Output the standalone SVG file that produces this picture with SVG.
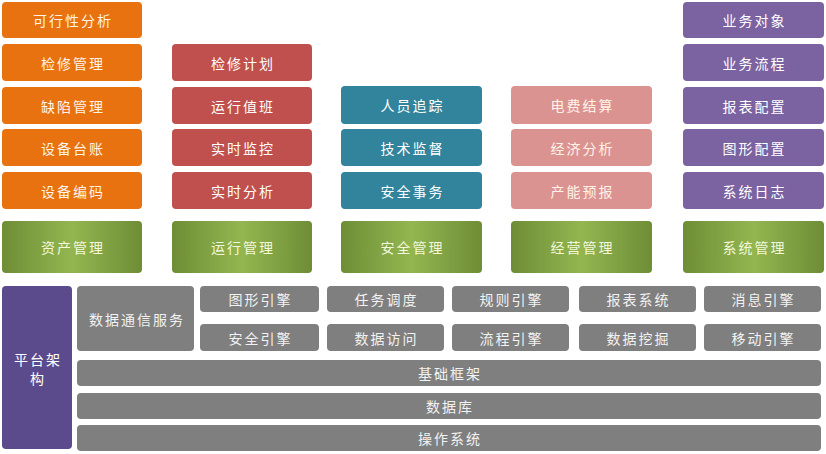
<svg xmlns="http://www.w3.org/2000/svg" width="826" height="454" viewBox="0 0 826 454">
<defs>
<linearGradient id="gr" x1="0" y1="0" x2="1" y2="0">
<stop offset="0" stop-color="#6E8D36"/>
<stop offset="0.5" stop-color="#93B650"/>
<stop offset="1" stop-color="#6E8D36"/>
</linearGradient>
<style>
rect{rx:4px;ry:4px}
.o{fill:#E8720F}
.r{fill:#C0504D}
.t{fill:#31849B}
.p{fill:#DB9391}
.v{fill:#7B62A0}
.g{fill:url(#gr)}
.k{fill:#7F7F7F}
.f{fill:#5C4B8C}
text{font-family:"Noto Sans CJK SC","Noto Sans CJK JP",sans-serif;font-size:14px;letter-spacing:2px;fill:#FFFFFF;text-anchor:middle;dominant-baseline:central}
.lt{fill:#FFF3E8}
.gt{fill:#F4F8DA}
.kt{fill:#F2F2F2}
</style>
</defs>
<rect x="0" y="0" width="826" height="454" style="fill:#FFFFFF;rx:0;ry:0"/>
<g id="col-asset">
<g id="n-kxxfx"><rect class="o" x="2" y="2" width="140" height="36"/><text class="lt" x="73" y="20">可行性分析</text></g>
<g id="n-jxgl"><rect class="o" x="2" y="44" width="140" height="37"/><text class="lt" x="73" y="62.5">检修管理</text></g>
<g id="n-qxgl"><rect class="o" x="2" y="87" width="140" height="37"/><text class="lt" x="73" y="105.5">缺陷管理</text></g>
<g id="n-sbtz"><rect class="o" x="2" y="129" width="140" height="37"/><text class="lt" x="73" y="147.5">设备台账</text></g>
<g id="n-sbbm"><rect class="o" x="2" y="172" width="140" height="37"/><text class="lt" x="73" y="190.5">设备编码</text></g>
<g id="n-zcgl"><rect class="g" x="2" y="221" width="140" height="52"/><text class="gt" x="73" y="247">资产管理</text></g>
</g>
<g id="col-run">
<g id="n-jxjh"><rect class="r" x="172" y="44" width="140" height="37"/><text x="243" y="62.5">检修计划</text></g>
<g id="n-yxzb"><rect class="r" x="172" y="87" width="140" height="37"/><text x="243" y="105.5">运行值班</text></g>
<g id="n-ssjk"><rect class="r" x="172" y="129" width="140" height="37"/><text x="243" y="147.5">实时监控</text></g>
<g id="n-ssfx"><rect class="r" x="172" y="172" width="140" height="37"/><text x="243" y="190.5">实时分析</text></g>
<g id="n-yxgl"><rect class="g" x="172" y="221" width="140" height="52"/><text class="gt" x="243" y="247">运行管理</text></g>
</g>
<g id="col-safe">
<g id="n-ryzz"><rect class="t" x="341" y="86" width="141" height="38"/><text x="412.5" y="105">人员追踪</text></g>
<g id="n-jsjd"><rect class="t" x="341" y="129" width="141" height="37"/><text x="412.5" y="147.5">技术监督</text></g>
<g id="n-aqsw"><rect class="t" x="341" y="172" width="141" height="37"/><text x="412.5" y="190.5">安全事务</text></g>
<g id="n-aqgl"><rect class="g" x="341" y="221" width="141" height="52"/><text class="gt" x="412.5" y="247">安全管理</text></g>
</g>
<g id="col-biz">
<g id="n-dfjs"><rect class="p" x="511" y="86" width="141" height="38"/><text class="lt" x="582.5" y="105">电费结算</text></g>
<g id="n-jjfx"><rect class="p" x="511" y="129" width="141" height="37"/><text class="lt" x="582.5" y="147.5">经济分析</text></g>
<g id="n-cnyb"><rect class="p" x="511" y="172" width="141" height="37"/><text class="lt" x="582.5" y="190.5">产能预报</text></g>
<g id="n-jygl"><rect class="g" x="511" y="221" width="141" height="52"/><text class="gt" x="582.5" y="247">经营管理</text></g>
</g>
<g id="col-sys">
<g id="n-ywdx"><rect class="v" x="683" y="2" width="141" height="36"/><text x="754.5" y="20">业务对象</text></g>
<g id="n-ywlc"><rect class="v" x="683" y="44" width="141" height="37"/><text x="754.5" y="62.5">业务流程</text></g>
<g id="n-bbpz"><rect class="v" x="683" y="87" width="141" height="37"/><text x="754.5" y="105.5">报表配置</text></g>
<g id="n-txpz"><rect class="v" x="683" y="129" width="141" height="37"/><text x="754.5" y="147.5">图形配置</text></g>
<g id="n-xtrz"><rect class="v" x="683" y="172" width="141" height="37"/><text x="754.5" y="190.5">系统日志</text></g>
<g id="n-xtgl"><rect class="g" x="683" y="221" width="141" height="52"/><text class="gt" x="754.5" y="247">系统管理</text></g>
</g>
<g id="platform">
<g id="n-ptjg"><rect class="f" x="2" y="286" width="70" height="163"/><text x="38" y="359">平台架</text><text x="38" y="378">构</text></g>
<g id="n-sjtxfw"><rect class="k" x="77" y="286" width="117" height="65"/><text class="kt" x="137" y="318.5">数据通信服务</text></g>
<g id="n-txyq"><rect class="k" x="200" y="286" width="119" height="26"/><text class="kt" x="260.5" y="299">图形引擎</text></g>
<g id="n-rwdd"><rect class="k" x="327" y="286" width="117" height="26"/><text class="kt" x="386.5" y="299">任务调度</text></g>
<g id="n-gzyq"><rect class="k" x="452" y="286" width="117" height="26"/><text class="kt" x="511.5" y="299">规则引擎</text></g>
<g id="n-bbxt"><rect class="k" x="579" y="286" width="117" height="26"/><text class="kt" x="638.5" y="299">报表系统</text></g>
<g id="n-xxyq"><rect class="k" x="704" y="286" width="117" height="26"/><text class="kt" x="763.5" y="299">消息引擎</text></g>
<g id="n-aqyq"><rect class="k" x="200" y="324" width="119" height="27"/><text class="kt" x="260.5" y="337.5">安全引擎</text></g>
<g id="n-sjfw"><rect class="k" x="327" y="324" width="117" height="27"/><text class="kt" x="386.5" y="337.5">数据访问</text></g>
<g id="n-lcyq"><rect class="k" x="452" y="324" width="117" height="27"/><text class="kt" x="511.5" y="337.5">流程引擎</text></g>
<g id="n-sjwj"><rect class="k" x="579" y="324" width="117" height="27"/><text class="kt" x="638.5" y="337.5">数据挖掘</text></g>
<g id="n-ydyq"><rect class="k" x="704" y="324" width="117" height="27"/><text class="kt" x="763.5" y="337.5">移动引擎</text></g>
<g id="n-jckj"><rect class="k" x="77" y="360" width="744" height="26"/><text class="kt" x="450" y="373">基础框架</text></g>
<g id="n-sjk"><rect class="k" x="77" y="393" width="744" height="26"/><text class="kt" x="450" y="406">数据库</text></g>
<g id="n-czxt"><rect class="k" x="77" y="425" width="744" height="26"/><text class="kt" x="450" y="438">操作系统</text></g>
</g>
<g id="connectors"></g>
</svg>
